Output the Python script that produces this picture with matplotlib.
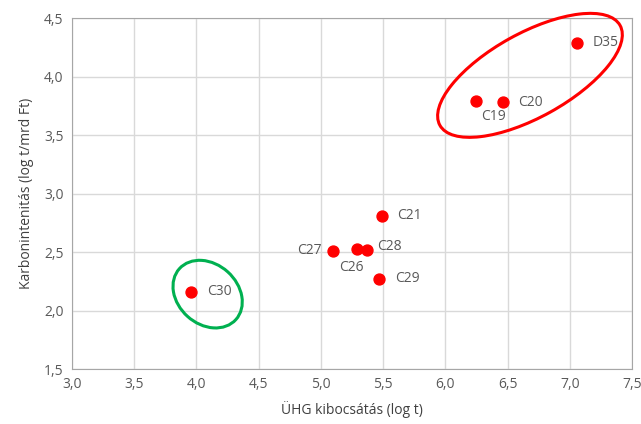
import matplotlib.pyplot as plt
from matplotlib.patches import Ellipse
from matplotlib.transforms import ScaledTranslation
from matplotlib.ticker import FuncFormatter

# data
labels = ["C30", "C27", "C26", "C28", "C21", "C29", "C19", "C20", "D35"]
emission = [3.96, 5.10, 5.29, 5.37, 5.49, 5.47, 6.25, 6.46, 7.06]
intensity = [2.16, 2.51, 2.53, 2.52, 2.81, 2.27, 3.79, 3.78, 4.29]

# label offsets in points (dx, dy, ha)
offsets = {
    "C30": (11, 0, "left"), "C27": (-8, 0, "right"), "C26": (-4, -14, "center"),
    "C28": (7, 2, "left"), "C21": (11, 0, "left"), "C29": (11, 0, "left"),
    "C19": (3, -11, "left"), "C20": (11, 0, "left"), "D35": (11, 0, "left"),
}

plt.rcParams["font.family"] = ["Open Sans", "DejaVu Sans"]
text_col = "#595959"

fig = plt.figure(figsize=(6.41, 4.24), dpi=100)
ax = fig.add_axes([0.1123, 0.1297, 0.8737, 0.8278])

ax.scatter(emission, intensity, s=62, color="#ff0000", zorder=3)
for name, x, y in zip(labels, emission, intensity):
    dx, dy, ha = offsets[name]
    ax.annotate(name, (x, y), xytext=(dx, dy), textcoords="offset points",
                ha=ha, va="center", fontsize=10, color=text_col, zorder=4)

ax.set_xlim(3.0, 7.5)
ax.set_ylim(1.5, 4.5)
ax.set_xticks([3.0 + 0.5 * i for i in range(10)])
ax.set_yticks([1.5 + 0.5 * i for i in range(7)])
fmt = FuncFormatter(lambda v, _: f"{v:.1f}".replace(".", ","))
ax.xaxis.set_major_formatter(fmt)
ax.yaxis.set_major_formatter(fmt)
ax.tick_params(length=0, labelsize=10, labelcolor=text_col, pad=6)
ax.grid(True, color="#d9d9d9", linewidth=1)
ax.set_axisbelow(True)
for sp in ax.spines.values():
    sp.set_color("#a6a6a6")

ax.set_xlabel("ÜHG kibocsátás (log t)", fontsize=10, color="#404040", labelpad=6)
ax.set_ylabel("Karbonintenitás (log t/mrd Ft)", fontsize=10, color="#404040", labelpad=7)

# highlight ellipses: centre in data units, size in inches
def ring(cx, cy, w, h, angle, color):
    tr = fig.dpi_scale_trans + ScaledTranslation(cx, cy, ax.transData)
    ax.add_patch(Ellipse((0, 0), w, h, angle=angle, fill=False,
                         edgecolor=color, linewidth=2.2, transform=tr,
                         clip_on=False, zorder=5))

ring(6.68, 4.01, 2.06, 0.84, 29, "#ff0000")
ring(4.09, 2.14, 0.76, 0.60, -42, "#00b050")

fig.savefig("out.png", dpi=100)
